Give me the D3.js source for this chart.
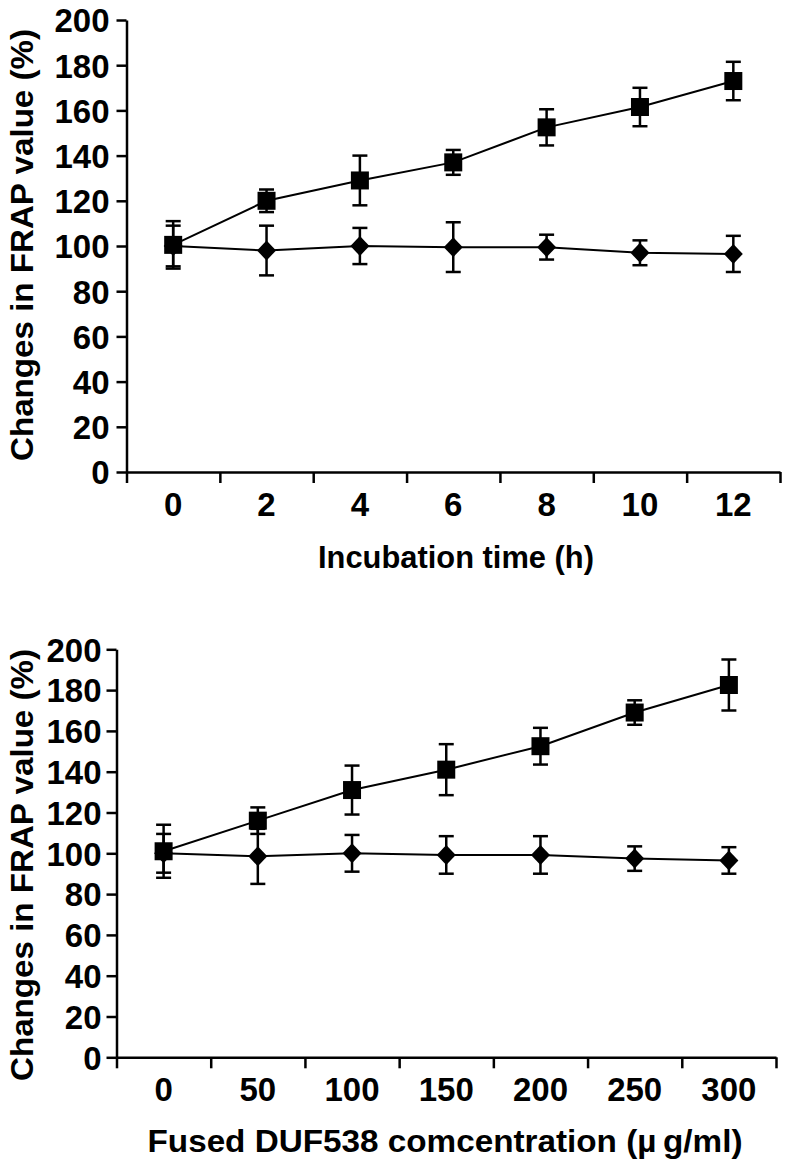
<!DOCTYPE html>
<html>
<head>
<meta charset="utf-8">
<script src="https://cdn.jsdelivr.net/npm/d3@7"></script>
<style>
  html, body { margin: 0; padding: 0; background: #fff; }
  svg { display: block; }
  text { font-family: "Liberation Sans", Arial, Helvetica, sans-serif; font-weight: bold; fill: #000; }
</style>
</head>
<body>
<script>
// ---- Data ----
const timeCats = ["0", "2", "4", "6", "8", "10", "12"];
const timeSquare = [100.5, 120, 129, 137, 152.5, 161.5, 173];
const timeSquareErr = [10.5, 5, 11, 5.5, 8, 8.5, 8.5];
const timeDiamond = [100, 98, 100, 99.5, 99.5, 97, 96.5];
const timeDiamondErr = [9, 11, 8, 11, 5.5, 5.5, 8];

const concCats = ["0", "50", "100", "150", "200", "250", "300"];
const concSquare = [101, 116, 131, 141, 152.5, 169, 182.5];
const concSquareErr = [13, 6.5, 12, 12.5, 9, 6, 12.5];
const concDiamond = [100, 98.5, 100, 99.2, 99.2, 97.4, 96.5];
const concDiamondErr = [9.5, 13.5, 9, 9.2, 9.2, 6, 6.5];

const yTicks = [0, 20, 40, 60, 80, 100, 120, 140, 160, 180, 200];
const yTitle = "Changes in FRAP value (%)";
const xTitleTop = "Incubation time (h)";
const xTitleBottom = "Fused DUF538 comcentration (\u00B5\u2009g/ml)";

// ---- Drawing ----
const svg = d3.select("body").append("svg").attr("width", 786).attr("height", 1164);

function panel(cfg) {
  const g = svg.append("g");
  const x = d3.scaleBand().domain(cfg.cats).range([cfg.x0, cfg.x1]).paddingInner(0).paddingOuter(0);
  const y = d3.scaleLinear().domain([0, 200]).range([cfg.yBottom, cfg.yTop]);
  const cx = c => x(c) + x.bandwidth() / 2;

  // boundary ticks on x-axis
  const xb = d3.scaleLinear().domain([0, cfg.cats.length]).range([cfg.x0, cfg.x1]);
  const xAxis = g.append("g").attr("transform", `translate(0,${cfg.yBottom})`)
    .call(d3.axisBottom(xb).tickValues(d3.range(0, cfg.cats.length + 1)).tickFormat("").tickSize(11).tickSizeOuter(0));
  xAxis.selectAll("path,line").attr("stroke", "#000").attr("stroke-width", 2.5);

  // x tick labels
  g.selectAll(".xl").data(cfg.cats).join("text")
    .attr("x", d => cx(d)).attr("y", cfg.yBottom + 44)
    .attr("text-anchor", "middle").attr("font-size", 33).text(d => d);

  // y axis
  const yAxis = g.append("g").attr("transform", `translate(${cfg.x0},0)`)
    .call(d3.axisLeft(y).tickValues(yTicks).tickSize(10).tickSizeOuter(0).tickPadding(cfg.yPad));
  yAxis.selectAll("path,line").attr("stroke", "#000").attr("stroke-width", 2.5);
  yAxis.selectAll("text").attr("font-size", 33).attr("font-family", null).attr("fill", "#000")
    .attr("dy", "0.36em");

  // y title
  g.append("text")
    .attr("transform", `translate(${cfg.yTitleX},${cfg.yTitleY}) rotate(-90)`)
    .attr("text-anchor", "middle").attr("font-size", 32)
    .attr("textLength", 432).attr("lengthAdjust", "spacingAndGlyphs")
    .text(yTitle);

  // x title
  g.append("text")
    .attr("x", cfg.xTitleX).attr("y", cfg.xTitleY)
    .attr("text-anchor", "middle").attr("font-size", 31)
    .attr("textLength", cfg.xTitleLen).attr("lengthAdjust", "spacingAndGlyphs")
    .text(cfg.xTitle);

  const series = [
    { vals: cfg.diamond, errs: cfg.diamondErr, shape: "diamond" },
    { vals: cfg.square, errs: cfg.squareErr, shape: "square" }
  ];
  const capW = 15;
  series.forEach(s => {
    const pts = cfg.cats.map((c, i) => ({ c, v: s.vals[i], e: s.errs[i] }));
    // error bars
    const eb = g.append("g").attr("stroke", "#000").attr("stroke-width", 2.5);
    eb.selectAll(".v").data(pts).join("line")
      .attr("x1", d => cx(d.c)).attr("x2", d => cx(d.c))
      .attr("y1", d => y(d.v + d.e)).attr("y2", d => y(d.v - d.e));
    eb.selectAll(".t").data(pts).join("line")
      .attr("x1", d => cx(d.c) - capW / 2).attr("x2", d => cx(d.c) + capW / 2)
      .attr("y1", d => y(d.v + d.e)).attr("y2", d => y(d.v + d.e));
    eb.selectAll(".b").data(pts).join("line")
      .attr("x1", d => cx(d.c) - capW / 2).attr("x2", d => cx(d.c) + capW / 2)
      .attr("y1", d => y(d.v - d.e)).attr("y2", d => y(d.v - d.e));
    // connecting line
    g.append("path").datum(pts)
      .attr("fill", "none").attr("stroke", "#000").attr("stroke-width", 2)
      .attr("d", d3.line().x(d => cx(d.c)).y(d => y(d.v)));
    // markers
    if (s.shape === "square") {
      g.selectAll(null).data(pts).join("rect")
        .attr("x", d => cx(d.c) - 9).attr("y", d => y(d.v) - 9)
        .attr("width", 18).attr("height", 18).attr("fill", "#000");
    } else {
      g.selectAll(null).data(pts).join("path")
        .attr("d", d => {
          const px = cx(d.c), py = y(d.v);
          return `M${px},${py - 10}L${px + 9.5},${py}L${px},${py + 10}L${px - 9.5},${py}Z`;
        })
        .attr("fill", "#000");
    }
  });
}

panel({
  cats: timeCats, square: timeSquare, squareErr: timeSquareErr,
  diamond: timeDiamond, diamondErr: timeDiamondErr,
  x0: 126.5, x1: 780, yTop: 20, yBottom: 472, yPad: 7,
  yTitleX: 33, yTitleY: 245,
  xTitle: xTitleTop, xTitleX: 456, xTitleY: 568, xTitleLen: 276
});

panel({
  cats: concCats, square: concSquare, squareErr: concSquareErr,
  diamond: concDiamond, diamondErr: concDiamondErr,
  x0: 116.5, x1: 776, yTop: 649.3, yBottom: 1057.3, yPad: 5,
  yTitleX: 33, yTitleY: 865,
  xTitle: xTitleBottom, xTitleX: 445, xTitleY: 1152, xTitleLen: 595
});
</script>
</body>
</html>
